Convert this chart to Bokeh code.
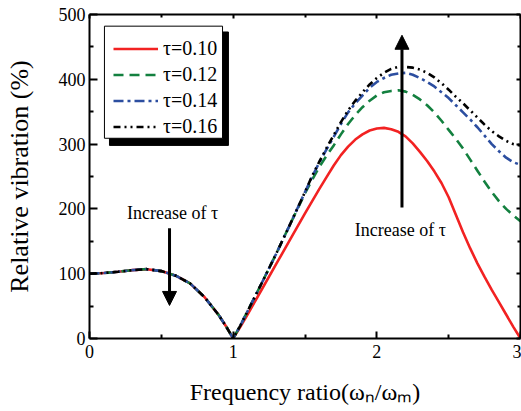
from bokeh.plotting import figure
from bokeh.models import (Range1d, LinearAxis, FixedTicker, Legend, LegendItem,
                          Label, Arrow, NormalHead, CustomJSTickFormatter, BoxAnnotation)
from bokeh.embed import file_html
from bokeh.resources import INLINE

FONT = "Liberation Serif"

# ---------------- data ----------------
x_ratio = [0, 0.1, 0.2, 0.3, 0.4, 0.5, 0.6, 0.7, 0.8, 0.9, 0.95, 1.0,
           1.05, 1.1, 1.2, 1.3, 1.4,
           1.5, 1.55, 1.6, 1.65, 1.7, 1.75, 1.8, 1.85, 1.9, 1.95,
           2.0, 2.05, 2.1, 2.15, 2.2, 2.25, 2.3, 2.35, 2.4, 2.45,
           2.5, 2.55, 2.6, 2.65, 2.7, 2.75, 2.8, 2.85, 2.9, 2.95, 3.0]

low_common = [100, 101, 103, 105.5, 107, 104, 97, 85, 64, 36, 19, 0]

tau_010 = low_common + [18, 37, 76, 115, 154,
                        193, 212, 231, 249, 267, 283, 296, 307, 315, 321,
                        324, 325, 323, 319, 312, 301, 288, 274, 258, 240,
                        218, 191, 164, 139, 116, 95, 75, 56, 37, 18, 0]
tau_012 = low_common + [20, 42, 86, 131, 178,
                        224, 245, 265, 282, 298, 315, 331, 345, 357, 367,
                        375, 380, 382, 383, 381, 376, 369, 360, 349, 336,
                        322, 308, 293, 276, 259, 242, 226, 212, 200, 190, 181]
tau_014 = low_common + [20, 42, 86, 131, 178,
                        226, 250, 272, 292, 311, 331, 349, 363, 375, 387,
                        396, 402, 407, 409, 410, 407, 402, 396, 389, 380,
                        371, 360, 349, 338, 326, 313, 300, 289, 279, 272, 268]
tau_016 = low_common + [20, 42, 86, 131, 178,
                        226, 251, 273, 294, 314, 334, 352, 367, 380, 392,
                        402, 410, 416, 419, 419, 418, 415, 410, 403, 394,
                        384, 373, 363, 352, 341, 330, 320, 312, 305, 300, 298]

series_labels = ["τ=0.10", "τ=0.12", "τ=0.14", "τ=0.16"]
series_values = [tau_010, tau_012, tau_014, tau_016]
series_colors = ["#f22222", "#13803f", "#2c4ea0", "#000000"]
series_dashes = ["solid", "10 6", "10 4 3 4", "7 4 2 4 2 4"]

x_ticks = [0, 1, 2, 3]
x_minor = [0.5, 1.5, 2.5]
y_ticks = [0, 100, 200, 300, 400, 500]
y_minor = [50, 150, 250, 350, 450]

annotation_text = "Increase of τ"

# ---------------- figure ----------------
p = figure(width=521, height=411, x_range=Range1d(0, 3), y_range=Range1d(0, 500),
           output_backend="svg", toolbar_location=None,
           min_border_left=89, min_border_right=1, min_border_top=14, min_border_bottom=73)
p.grid.visible = False
p.outline_line_color = None
p.background_fill_color = "white"
p.border_fill_color = "white"

renderers = []
for vals, col, dash in zip(series_values, series_colors, series_dashes):
    r = p.line(x_ratio, vals, line_color=col, line_width=2.6, line_dash=dash)
    renderers.append(r)


def style_axis(ax, major_in, minor_in, labels=True):
    ax.axis_line_color = "black"
    ax.axis_line_width = 2
    ax.major_tick_line_color = "black"
    ax.major_tick_line_width = 2
    ax.minor_tick_line_color = "black"
    ax.minor_tick_line_width = 2
    ax.major_tick_in = major_in
    ax.major_tick_out = 0
    ax.minor_tick_in = minor_in
    ax.minor_tick_out = 0
    ax.major_label_text_font = FONT
    ax.major_label_text_font_size = "18px"
    ax.major_label_text_color = "black"
    if not labels:
        ax.formatter = CustomJSTickFormatter(code="return ''")
        ax.major_label_standoff = 0


xax = p.xaxis[0]
xax.ticker = FixedTicker(ticks=x_ticks, minor_ticks=x_minor)
style_axis(xax, 7, 4)
xax.major_label_standoff = 6
xax.axis_label = "Frequency ratio(ω\u2099/ω\u2098)"
xax.axis_label_text_font = FONT
xax.axis_label_text_font_size = "24px"
xax.axis_label_text_font_style = "normal"
xax.axis_label_text_color = "black"
xax.axis_label_standoff = 18

yax = p.yaxis[0]
yax.ticker = FixedTicker(ticks=y_ticks, minor_ticks=y_minor)
style_axis(yax, 8, 4)
yax.major_label_standoff = 4
yax.axis_label = "Relative vibration (%)"
yax.axis_label_text_font = FONT
yax.axis_label_text_font_size = "26px"
yax.axis_label_text_font_style = "normal"
yax.axis_label_text_color = "black"
yax.axis_label_standoff = 22

top = LinearAxis(ticker=FixedTicker(ticks=x_ticks, minor_ticks=x_minor))
style_axis(top, 4, 3, labels=False)
p.add_layout(top, "above")
right = LinearAxis(ticker=FixedTicker(ticks=y_ticks, minor_ticks=y_minor))
style_axis(right, 4, 3, labels=False)
p.add_layout(right, "right")

# ---------------- legend box with shadow ----------------
p.add_layout(BoxAnnotation(left=0.139, right=0.967, top=473, bottom=298,
                           fill_color="black", fill_alpha=1, line_color="black",
                           line_alpha=1, line_width=1))
p.add_layout(BoxAnnotation(left=0.104, right=0.926, top=482, bottom=309,
                           fill_color="white", fill_alpha=1, line_color="black",
                           line_alpha=1, line_width=1))

items = [LegendItem(label=lab, renderers=[r]) for lab, r in zip(series_labels, renderers)]
legend = Legend(items=items, location=(24, 200), orientation="vertical",
                label_text_font=FONT, label_text_font_size="20px",
                glyph_width=45, glyph_height=23, label_height=23, label_standoff=5,
                spacing=3, padding=0, margin=0,
                border_line_color=None, background_fill_alpha=0,
                label_text_color="black")
p.add_layout(legend)

# ---------------- arrows & notes ----------------
p.add_layout(Arrow(end=NormalHead(size=14, fill_color="black", line_color="black"),
                   x_start=2.175, y_start=202, x_end=2.175, y_end=468,
                   line_color="black", line_width=3))
p.add_layout(Arrow(end=NormalHead(size=14, fill_color="black", line_color="black"),
                   x_start=0.557, y_start=170, x_end=0.557, y_end=51,
                   line_color="black", line_width=3))

for xx, yy in [(0.578, 193), (2.164, 167)]:
    p.add_layout(Label(x=xx, y=yy, text=annotation_text, text_font=FONT,
                       text_font_size="18px", text_align="center",
                       text_baseline="alphabetic", text_color="black"))

open("out.html", "w").write(file_html(p, INLINE))
